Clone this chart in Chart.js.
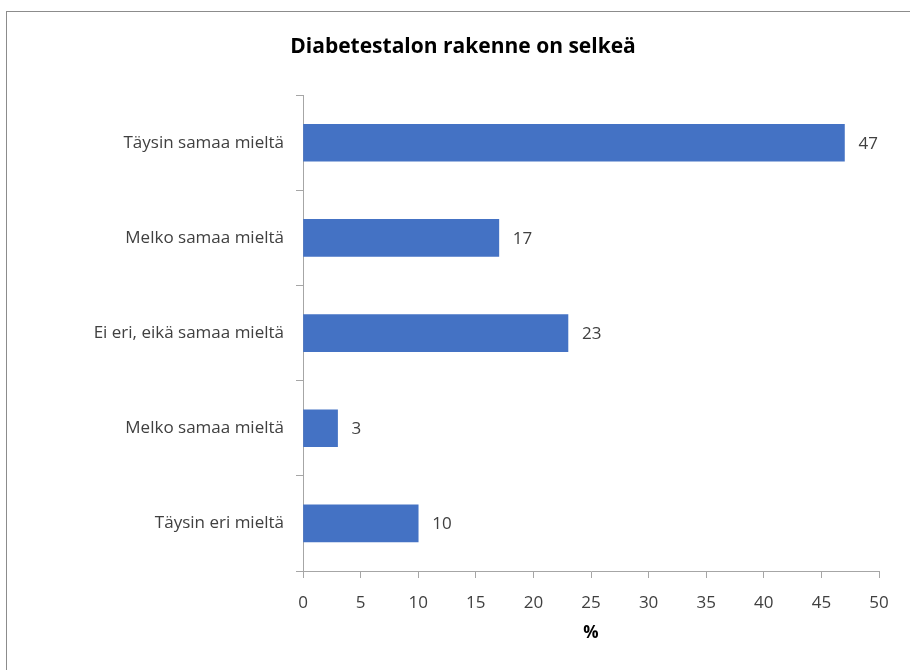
<!DOCTYPE html>
<html>
<head>
<meta charset="utf-8">
<title>Diabetestalon rakenne on selkeä</title>
<script src="https://cdn.jsdelivr.net/npm/chart.js@4/dist/chart.umd.min.js"></script>
<style>
    html, body { margin: 0; padding: 0; background: #fff; }
    #frame {
        position: absolute;
        left: 6px;
        top: 11px;
        width: 1000px;
        height: 1000px;
        border: 1px solid #8c8c8c;
    }
    #wrap { position: absolute; left: 0; top: 0; width: 910px; height: 670px; }
</style>
</head>
<body>
<div id="frame"></div>
<div id="wrap"><canvas id="survey-chart" width="910" height="670"></canvas></div>
<script>
const titleText = 'Diabetestalon rakenne on selkeä';
const answers = [
    'Täysin samaa mieltä',
    'Melko samaa mieltä',
    'Ei eri, eikä samaa mieltä',
    'Melko samaa mieltä',
    'Täysin eri mieltä',
];
const percents = [47, 17, 23, 3, 10];
const axisTitle = '%';

const FONT = "'Open Sans', sans-serif";
const TEXT = '#404040';
const AXIS = '#a6a6a6';

// value labels to the right of each bar
const barValueLabels = {
    id: 'barValueLabels',
    afterDatasetsDraw(chart) {
        const ctx = chart.ctx;
        const meta = chart.getDatasetMeta(0);
        ctx.save();
        ctx.font = `17px ${FONT}`;
        ctx.fillStyle = TEXT;
        ctx.textAlign = 'left';
        ctx.textBaseline = 'middle';
        meta.data.forEach((bar, i) => {
            ctx.fillText(String(percents[i]), bar.x + 14, bar.y + 1);
        });
        ctx.restore();
    },
};

new Chart(document.getElementById('survey-chart'), {
    type: 'bar',
    data: {
        labels: answers,
        datasets: [{
            data: percents,
            backgroundColor: '#4472c4',
            borderWidth: 0,
            barThickness: 37,
        }],
    },
    options: {
        indexAxis: 'y',
        responsive: false,
        animation: false,
        layout: { padding: { left: 47, right: 31, top: 0, bottom: 0 } },
        plugins: {
            legend: { display: false },
            tooltip: { enabled: false },
            title: {
                display: true,
                text: titleText,
                color: '#000',
                font: { family: FONT, size: 21, weight: 'bold' },
                padding: { top: 34, bottom: 36 },
            },
        },
        scales: {
            x: {
                min: 0,
                max: 50,
                ticks: {
                    stepSize: 5,
                    color: TEXT,
                    font: { family: FONT, size: 17 },
                    padding: 15,
                    maxRotation: 0,
                },
                grid: {
                    drawOnChartArea: false,
                    color: AXIS,
                    tickLength: 7,
                },
                border: { color: AXIS, width: 1 },
                title: {
                    display: true,
                    text: axisTitle,
                    color: '#000',
                    font: { family: FONT, size: 17, weight: 'bold' },
                    padding: { top: 10, bottom: 27 },
                },
                afterFit(scale) { scale.height = 99; },
            },
            y: {
                ticks: {
                    color: TEXT,
                    font: { family: FONT, size: 17 },
                    padding: 12,
                },
                grid: {
                    offset: true,
                    drawOnChartArea: false,
                    color: AXIS,
                    tickLength: 7,
                },
                border: { color: AXIS, width: 1 },
                afterFit(scale) { scale.width = 256; },
            },
        },
    },
    plugins: [barValueLabels],
});
</script>
</body>
</html>
